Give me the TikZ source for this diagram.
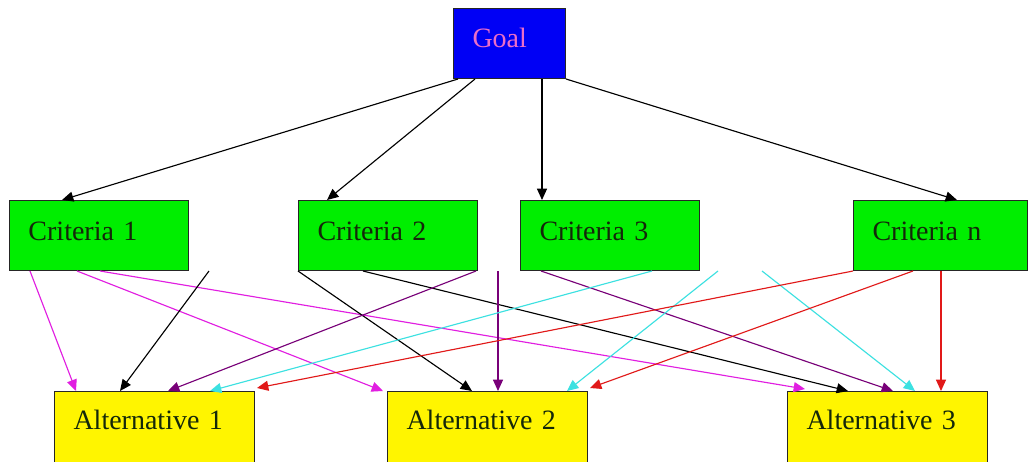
\documentclass[tikz,border=0pt]{standalone}
\usepackage{fontspec}
\setmainfont{Liberation Serif}
\usetikzlibrary{arrows.meta,calc}

\definecolor{goalblue}{RGB}{0,0,245}
\definecolor{critgreen}{RGB}{0,238,0}
\definecolor{altyellow}{RGB}{255,245,0}
\definecolor{goaltext}{RGB}{235,110,200}
\definecolor{lmag}{RGB}{225,30,225}
\definecolor{lpurple}{RGB}{120,0,120}
\definecolor{lcyan}{RGB}{60,225,225}
\definecolor{lred}{RGB}{225,25,25}
\definecolor{darktext}{RGB}{20,40,10}

\tikzset{
  box/.style={draw=black!85, line width=0.75pt, anchor=north west,
    inner xsep=14.25pt, inner ysep=0pt, align=left,
    font=\fontsize{21pt}{24pt}\selectfont},
  goalbox/.style={box, fill=goalblue, text=goaltext, text width=55.5pt,
    text height=29.25pt, text depth=23.25pt},
  critbox/.style={box, fill=critgreen, text=darktext, text width=105.75pt,
    text height=30pt, text depth=22.5pt},
  critnbox/.style={critbox, text width=102pt},
  altbox/.style={box, fill=altyellow, text=darktext, text width=121.5pt,
    text height=28.5pt, text depth=45pt},
  conn/.style={line width=0.85pt, -{Triangle[length=8.5pt,width=7.5pt]}},
}

\begin{document}
\begin{tikzpicture}[x=0.75pt,y=-0.75pt]
\useasboundingbox[fill=white] (0,0) rectangle (1028,461);
\clip (0,0) rectangle (1028,461);

% goal, criteria and alternatives
\node[goalbox]  (g)  at (453,8)   {Goal};
\node[critbox]  (c1) at (9,200)   {Criteria 1};
\node[critbox]  (c2) at (298,200) {Criteria 2};
\node[critbox]  (c3) at (520,200) {Criteria 3};
\node[critnbox] (cn) at (853,200) {Criteria n};
\node[altbox]   (a1) at (54,391)  {Alternative 1};
\node[altbox]   (a2) at (387,391) {Alternative 2};
\node[altbox]   (a3) at (787,391) {Alternative 3};

% loose starting points between the criteria boxes
\coordinate (k1) at (209,271);
\coordinate (p2) at (498,271);
\coordinate (q2) at (718,271);
\coordinate (q3) at (762,271);

% goal to criteria
\draw[conn] ($(g.south west)+(5,0)$)  -- ($(c1.north west)+(53,0)$);
\draw[conn] ($(g.south west)+(22,0)$) -- ($(c2.north west)+(29,0)$);
\draw[conn] ($(g.south west)+(89,0)$) -- ($(c3.north west)+(22,0)$);
\draw[conn] (g.south east)            -- ($(cn.north west)+(104,0)$);

% criteria 1 (magenta)
\draw[conn, lmag] ($(c1.south west)+(21,0)$) -- ($(a1.north west)+(22,0)$);
\draw[conn, lmag] ($(c1.south west)+(68,0)$) -- ($(a2.north west)+(-4,0)$);
\draw[conn, lmag] ($(c1.south west)+(91,0)$) -- ($(a3.north west)+(18,-2)$);

% black
\draw[conn] (k1) -- ($(a1.north west)+(66,0)$);
\draw[conn] (c2.south west) -- ($(a2.north west)+(85,0)$);
\draw[conn] ($(c2.south west)+(65,0)$) -- ($(a3.north west)+(61,0)$);

% purple
\draw[conn, lpurple] ($(c2.south east)+(-2,0)$) -- ($(a1.north west)+(114,0)$);
\draw[conn, lpurple] (p2) -- ($(a2.north west)+(111,0)$);
\draw[conn, lpurple] ($(c3.south west)+(21,0)$) -- ($(a3.north west)+(106,0)$);

% cyan
\draw[conn, lcyan] ($(c3.south west)+(132,0)$) -- ($(a1.north west)+(156,0)$);
\draw[conn, lcyan] (q2) -- ($(a2.north west)+(180,0)$);
\draw[conn, lcyan] (q3) -- ($(a3.north west)+(128,0)$);

% criteria n (red)
\draw[conn, lred] (cn.south west) -- ($(a1.north east)+(2,-3)$);
\draw[conn, lred] ($(cn.south west)+(60,0)$) -- ($(a2.north east)+(2,-3)$);
\draw[conn, lred] ($(cn.south west)+(88,0)$) -- ($(a3.north west)+(154,0)$);
\end{tikzpicture}
\end{document}
